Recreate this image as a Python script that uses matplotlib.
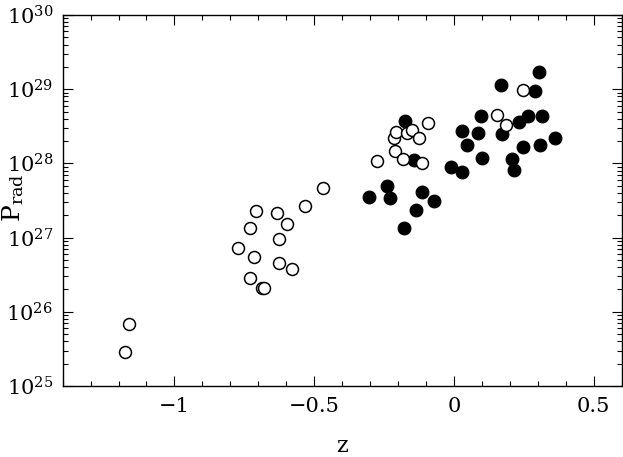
import math
import matplotlib
matplotlib.use("Agg")
import matplotlib.pyplot as plt
from matplotlib.ticker import LogLocator, MultipleLocator, FixedLocator, NullFormatter, FuncFormatter

plt.rcParams['font.family'] = ['DejaVu Serif']
plt.rcParams['mathtext.fontset'] = 'dejavuserif'

# open circles
z_open = [-1.176, -1.163, -0.708, -0.634, -0.532, -0.729, -0.596, -0.627, -0.7725,
          -0.715, -0.627, -0.580, -0.731, -0.686, -0.680, -0.470, -0.276, -0.210,
          -0.1825, -0.113, -0.214, -0.206, -0.167, -0.149, -0.126, -0.094, 0.1536,
          0.185, 0.246]
p_open = [2.90e25, 6.85e25, 2.28e27, 2.17e27, 2.67e27, 1.36e27, 1.54e27, 9.66e26, 7.24e26,
          5.49e26, 4.51e26, 3.74e26, 2.83e26, 2.09e26, 2.09e26, 4.61e27, 1.07e28, 1.47e28,
          1.16e28, 1.00e28, 2.17e28, 2.62e28, 2.59e28, 2.78e28, 2.21e28, 3.52e28, 4.45e28,
          3.33e28, 9.66e28]

# filled circles
z_fill = [-0.304, -0.240, -0.228, -0.176, -0.144, -0.115, -0.0707, -0.136, -0.180,
          -0.009, 0.030, 0.0275, 0.087, 0.048, 0.098, 0.101, 0.167, 0.171, 0.232,
          0.266, 0.314, 0.289, 0.306, 0.207, 0.216, 0.246, 0.309, 0.361]
p_fill = [3.52e27, 4.96e27, 3.42e27, 3.69e28, 1.11e28, 4.16e27, 3.11e27, 2.33e27, 1.33e27,
          8.81e27, 7.59e27, 2.76e28, 2.59e28, 1.76e28, 4.40e28, 1.18e28, 1.14e29, 2.51e28, 3.61e28,
          4.32e28, 4.40e28, 9.55e28, 1.69e29, 1.16e28, 8.22e27, 1.65e28, 1.79e28, 2.20e28]

x_ticks = [-1, -0.5, 0, 0.5]
x_ticklabels = ['\u22121', '\u22120.5', '0', '0.5']

W, H = 623, 457
fig = plt.figure(figsize=(W / 100, H / 100), dpi=100)
ax = fig.add_axes([0.1006, 0.1554, 0.897, 0.8118])

ax.plot(z_fill, p_fill, 'o', ms=9.2, mfc='black', mec='black', mew=0.8, ls='none')
ax.plot(z_open, p_open, 'o', ms=8.6, mfc='white', mec='black', mew=1.1, ls='none')

ax.set_yscale('log')
ax.set_xlim(-1.4, 0.6)
ax.set_ylim(1e25, 1e30)

ax.xaxis.set_major_locator(FixedLocator(x_ticks))
ax.set_xticklabels(x_ticklabels)
ax.xaxis.set_minor_locator(MultipleLocator(0.1))
ax.yaxis.set_major_locator(LogLocator(base=10, numticks=10))
ax.yaxis.set_minor_locator(LogLocator(base=10, subs=range(2, 10), numticks=20))
ax.yaxis.set_minor_formatter(NullFormatter())
ax.yaxis.set_major_formatter(FuncFormatter(lambda v, p: r'$10^{%d}$' % round(math.log10(v))))

ax.tick_params(which='both', direction='in', top=True, right=True, width=0.8)
ax.tick_params(which='major', length=7.2)
ax.tick_params(which='minor', length=3.6)
ax.tick_params(axis='x', labelsize=15, pad=8)
ax.tick_params(axis='y', labelsize=15, pad=7)
for s in ax.spines.values():
    s.set_linewidth(1.0)

fig.text(342 / W, 1 - 446 / H, 'z', fontsize=16, ha='center', va='center')
fig.text(13 / W, 1 - 198 / H, r'$\mathrm{P_{rad}}$', fontsize=18, rotation=90,
         ha='center', va='center')

fig.savefig('out.png', dpi=100)
